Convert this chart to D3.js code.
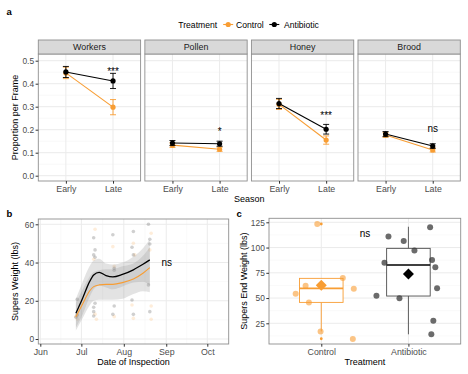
<!DOCTYPE html>
<html><head><meta charset="utf-8">
<script src="https://cdn.jsdelivr.net/npm/d3@7"></script>
<style>body{margin:0;background:#fff}svg{display:block;font-family:"Liberation Sans",Arial,Helvetica,sans-serif}</style>
</head><body><svg id="chart" width="468" height="374"></svg>
<script>
// ---------- Panel a data ----------
const facets = ["Workers", "Pollen", "Honey", "Brood"];
const seasons = ["Early", "Late"];
const treatments = ["Control", "Antibiotic"];
const controlMean = [[0.447, 0.298], [0.133, 0.115], [0.310, 0.155], [0.177, 0.112]];
const controlSE = [[0.025, 0.033], [0.010, 0.009], [0.022, 0.018], [0.010, 0.009]];
const antibioticMean = [[0.451, 0.412], [0.142, 0.139], [0.314, 0.202], [0.181, 0.129]];
const antibioticSE = [[0.024, 0.033], [0.011, 0.011], [0.022, 0.021], [0.011, 0.010]];
const sigLabels = ["***", "*", "***", "ns"];
const sigY = [0.440, 0.177, 0.248, 0.191];
const yTicksA = [0, 0.1, 0.2, 0.3, 0.4, 0.5];

// ---------- Panel b data ----------
const smoothDates = ["2018-06-27","2018-07-02","2018-07-07","2018-07-10","2018-07-14","2018-07-19","2018-07-24","2018-07-31","2018-08-08","2018-08-15","2018-08-20"];
const antibioticFit = [13.5, 21.5, 30.0, 33.5, 34.9, 33.2, 32.5, 33.8, 36.2, 39.1, 41.4];
const antibioticLow = [6.0, 13.0, 22.0, 26.0, 28.0, 27.0, 26.0, 27.5, 29.5, 30.0, 28.0];
const antibioticHigh = [21.0, 30.0, 38.0, 41.0, 42.0, 39.5, 39.0, 40.0, 43.0, 47.5, 52.0];
const controlFit = [11.7, 18.5, 25.1, 27.4, 28.3, 28.6, 28.6, 29.5, 31.4, 34.4, 37.3];
const controlLow = [4.5, 11.0, 17.5, 20.0, 20.5, 20.5, 20.5, 21.0, 23.5, 25.0, 24.5];
const controlHigh = [19.0, 26.0, 32.5, 35.0, 36.0, 36.5, 36.5, 38.0, 39.5, 43.5, 48.0];
const controlPtDates = ["2018-06-27","2018-06-28","2018-06-28","2018-07-11","2018-07-10","2018-07-12","2018-07-11","2018-07-24","2018-07-25","2018-07-25","2018-08-08","2018-08-07","2018-08-08","2018-08-09","2018-08-21","2018-08-20","2018-08-21","2018-08-21"];
const controlPtWeight = [11.8, 12.5, 10.5, 57.4, 41.7, 10.3, 13.0, 48.3, 11.7, 38.0, 50.1, 17.8, 10.8, 44.0, 55.3, 46.6, 17.3, 10.3];
const antibioticPtDates = ["2018-06-27","2018-06-28","2018-06-28","2018-07-10","2018-07-11","2018-07-11","2018-07-10","2018-07-10","2018-07-10","2018-07-11","2018-07-10","2018-07-24","2018-07-25","2018-07-25","2018-07-24","2018-07-25","2018-08-08","2018-08-07","2018-08-08","2018-08-07","2018-08-08","2018-08-19","2018-08-20","2018-08-20","2018-08-19","2018-08-20"];
const antibioticPtWeight = [11.4, 12.6, 20.8, 44.0, 42.8, 46.6, 53.0, 14.3, 16.6, 18.7, 12.0, 54.5, 37.0, 36.0, 12.9, 17.3, 56.2, 48.0, 44.0, 20.4, 12.9, 60.0, 52.2, 49.7, 28.3, 14.3];
const monthTicks = ["2018-06-01","2018-07-01","2018-08-01","2018-09-01","2018-10-01"];
const monthLabels = ["Jun", "Jul", "Aug", "Sep", "Oct"];
const yTicksB = [0, 20, 40, 60];

// ---------- Panel c data ----------
const boxQ1 = [45.7, 52.0];
const boxMedian = [59.6, 82.7];
const boxQ3 = [69.5, 99.2];
const whiskerLow = [17.0, 14.1];
const whiskerHigh = [69.8, 120.6];
const groupMean = [62.6, 73.8];
const outliers = [[123.3, 9.7], []];
const controlEndWeight = [123.3, 62.2, 54.3, 45.7, 69.8, 59.2, 17.0, 9.4];
const controlJitter = [-0.046, -0.18, -0.294, -0.142, 0.247, 0.373, -0.008, 0.362];
const antibioticEndWeight = [120.0, 111.0, 106.4, 97.2, 85.0, 87.6, 80.4, 59.6, 52.3, 49.7, 27.5, 14.1];
const antibioticJitter = [0.249, -0.229, -0.054, 0.069, -0.275, 0.271, 0.309, 0.329, -0.367, -0.103, 0.286, 0.263];
const yTicksC = [25, 50, 75, 100, 125];

// ---------- styles ----------
const ORANGE = "#F89D33", BLACK = "#000000";
const GRID = "#EBEBEB", GRID_MINOR = "#F5F5F5", BORDER = "#8F8F8F", TICKTXT = "#4D4D4D", TICK = "#333333";
const XTICK_FS = 8.8, YTICK_FS = 8.4;
const svg = d3.select("#chart");
const parse = d3.timeParse("%Y-%m-%d");

function tagLabel(t, x, y) {
  svg.append("text").attr("x", x).attr("y", y).attr("font-size", 9.5).attr("font-weight", "bold").text(t);
}
function styleAxis(ax, fs) {
  ax.select(".domain").remove();
  ax.selectAll("line").attr("stroke", TICK);
  ax.selectAll("text").attr("font-size", fs).attr("fill", TICKTXT).attr("font-family", null);
}

// ================= Panel a =================
tagLabel("a", 6.5, 15);
const fx = d3.scaleBand().domain(facets).range([38.3, 460.3]).paddingInner(0.04);
const yA = d3.scaleLinear().domain([0, 0.5]).range([175.7, 60.7]);
const pTop = 54, pBot = 181, sTop = 40;
const bw = fx.bandwidth();
const xs = d3.scalePoint().domain(seasons).range([0, bw]).padding(0.585);

facets.forEach((f, i) => {
  const g = svg.append("g").attr("transform", `translate(${fx(f)},0)`);
  g.append("rect").attr("x", 0).attr("y", pTop).attr("width", bw).attr("height", pBot - pTop).attr("fill", "#fff");
  d3.range(0.05, 0.5, 0.1).forEach(v => g.append("line").attr("x1", 0).attr("x2", bw).attr("y1", yA(v)).attr("y2", yA(v)).attr("stroke", GRID_MINOR).attr("stroke-width", 0.6));
  yTicksA.forEach(v => g.append("line").attr("x1", 0).attr("x2", bw).attr("y1", yA(v)).attr("y2", yA(v)).attr("stroke", GRID).attr("stroke-width", 1));
  seasons.forEach(s => g.append("line").attr("x1", xs(s)).attr("x2", xs(s)).attr("y1", pTop).attr("y2", pBot).attr("stroke", GRID).attr("stroke-width", 1));

  const series = [
    { mean: controlMean[i], se: controlSE[i], col: ORANGE },
    { mean: antibioticMean[i], se: antibioticSE[i], col: BLACK }
  ];
  series.forEach(sr => {
    const pts = seasons.map((s, j) => ({ s, m: sr.mean[j], e: sr.se[j] }));
    g.append("path").datum(pts)
      .attr("d", d3.line().x(d => xs(d.s)).y(d => yA(d.m)))
      .attr("fill", "none").attr("stroke", sr.col).attr("stroke-width", 1.1);
    pts.forEach(d => {
      g.append("line").attr("x1", xs(d.s)).attr("x2", xs(d.s)).attr("y1", yA(d.m - d.e)).attr("y2", yA(d.m + d.e)).attr("stroke", sr.col).attr("stroke-width", 0.9);
      [d.m - d.e, d.m + d.e].forEach(v => g.append("line").attr("x1", xs(d.s) - 3).attr("x2", xs(d.s) + 3).attr("y1", yA(v)).attr("y2", yA(v)).attr("stroke", sr.col).attr("stroke-width", 0.9));
      g.append("circle").attr("cx", xs(d.s)).attr("cy", yA(d.m)).attr("r", 2.6).attr("fill", sr.col);
    });
  });
  g.append("text").attr("x", xs("Late")).attr("y", yA(sigY[i])).attr("text-anchor", "middle")
    .attr("font-size", 10).attr("fill", "#000").text(sigLabels[i]);

  g.append("rect").attr("x", 0).attr("y", pTop).attr("width", bw).attr("height", pBot - pTop).attr("fill", "none").attr("stroke", BORDER).attr("stroke-width", 0.9);
  g.append("rect").attr("x", 0).attr("y", sTop).attr("width", bw).attr("height", pTop - sTop).attr("fill", "#D9D9D9").attr("stroke", BORDER).attr("stroke-width", 0.9);
  g.append("text").attr("x", bw / 2).attr("y", sTop + 10.3).attr("text-anchor", "middle").attr("font-size", 8.9).attr("fill", "#1A1A1A").text(f);

  const xa = g.append("g").attr("transform", `translate(0,${pBot})`).call(d3.axisBottom(xs).tickSize(2.7).tickPadding(1.8));
  styleAxis(xa, XTICK_FS);
  if (i === 0) {
    const ya = g.append("g").call(d3.axisLeft(yA).tickValues(yTicksA).tickFormat(d3.format(".1f")).tickSize(2.7).tickPadding(1.5));
    styleAxis(ya, YTICK_FS);
  }
});
svg.append("text").attr("transform", `translate(18.3,${(pTop + pBot) / 2}) rotate(-90)`).attr("text-anchor", "middle").attr("font-size", 9).text("Proportion per Frame");
svg.append("text").attr("x", 249.3).attr("y", 201.5).attr("text-anchor", "middle").attr("font-size", 9).text("Season");

// legend
svg.append("text").attr("x", 178.3).attr("y", 27.6).attr("font-size", 8.6).text("Treatment");
[{ t: treatments[0], c: ORANGE, kx: 228.2, tx: 236 }, { t: treatments[1], c: BLACK, kx: 274.3, tx: 284 }].forEach(k => {
  svg.append("line").attr("x1", k.kx - 5).attr("x2", k.kx + 5).attr("y1", 24.5).attr("y2", 24.5).attr("stroke", k.c).attr("stroke-width", 1.1);
  svg.append("circle").attr("cx", k.kx).attr("cy", 24.5).attr("r", 2.6).attr("fill", k.c);
  svg.append("text").attr("x", k.tx).attr("y", 27.6).attr("font-size", 8.6).text(k.t);
});

// ================= Panel b =================
tagLabel("b", 6.5, 217.3);
const bL = 38.3, bR = 228.7, bT = 219, bB = 344;
const xB = d3.scaleTime().domain([parse(monthTicks[0]), parse(monthTicks[4])]).range([40.3, 207.3]);
const yB = d3.scaleLinear().domain([0, 60]).range([339, 224.3]);
const gb = svg.append("g");
gb.append("rect").attr("x", bL).attr("y", bT).attr("width", bR - bL).attr("height", bB - bT).attr("fill", "#fff");
[10, 30, 50].forEach(v => gb.append("line").attr("x1", bL).attr("x2", bR).attr("y1", yB(v)).attr("y2", yB(v)).attr("stroke", GRID_MINOR).attr("stroke-width", 0.6));
for (let k = 0; k < monthTicks.length - 1; k++) {
  const mid = new Date((parse(monthTicks[k]).getTime() + parse(monthTicks[k + 1]).getTime()) / 2);
  gb.append("line").attr("x1", xB(mid)).attr("x2", xB(mid)).attr("y1", bT).attr("y2", bB).attr("stroke", GRID_MINOR).attr("stroke-width", 0.6);
}
yTicksB.forEach(v => gb.append("line").attr("x1", bL).attr("x2", bR).attr("y1", yB(v)).attr("y2", yB(v)).attr("stroke", GRID));
monthTicks.forEach(m => gb.append("line").attr("x1", xB(parse(m))).attr("x2", xB(parse(m))).attr("y1", bT).attr("y2", bB).attr("stroke", GRID));

controlPtDates.forEach((d, i) => gb.append("circle").attr("cx", xB(parse(d))).attr("cy", yB(controlPtWeight[i])).attr("r", 1.8).attr("fill", ORANGE).attr("opacity", 0.18));
antibioticPtDates.forEach((d, i) => gb.append("circle").attr("cx", xB(parse(d))).attr("cy", yB(antibioticPtWeight[i])).attr("r", 1.8).attr("fill", "#555").attr("opacity", 0.28));

const sd = smoothDates.map(parse);
const area = (lo, hi) => d3.area().x((d, i) => xB(sd[i])).y0((d, i) => yB(lo[i])).y1((d, i) => yB(hi[i])).curve(d3.curveMonotoneX);
gb.append("path").datum(sd).attr("d", area(controlLow, controlHigh)).attr("fill", "#999").attr("opacity", 0.28);
gb.append("path").datum(sd).attr("d", area(antibioticLow, antibioticHigh)).attr("fill", "#999").attr("opacity", 0.28);
const fitLine = arr => d3.line().x((d, i) => xB(sd[i])).y((d, i) => yB(arr[i])).curve(d3.curveMonotoneX);
gb.append("path").datum(sd).attr("d", fitLine(controlFit)).attr("fill", "none").attr("stroke", ORANGE).attr("stroke-width", 1.1);
gb.append("path").datum(sd).attr("d", fitLine(antibioticFit)).attr("fill", "none").attr("stroke", BLACK).attr("stroke-width", 1.3);
gb.append("text").attr("x", 166.7).attr("y", 266).attr("text-anchor", "middle").attr("font-size", 10).text("ns");
gb.append("rect").attr("x", bL).attr("y", bT).attr("width", bR - bL).attr("height", bB - bT).attr("fill", "none").attr("stroke", BORDER).attr("stroke-width", 0.9);

const xbA = gb.append("g").attr("transform", `translate(0,${bB})`).call(d3.axisBottom(xB).tickValues(monthTicks.map(parse)).tickFormat((d, i) => monthLabels[i]).tickSize(2.7).tickPadding(1.8));
styleAxis(xbA, XTICK_FS);
const ybA = gb.append("g").attr("transform", `translate(${bL},0)`).call(d3.axisLeft(yB).tickValues(yTicksB).tickSize(2.7).tickPadding(1.5));
styleAxis(ybA, YTICK_FS);
svg.append("text").attr("transform", `translate(18.3,${(bT + bB) / 2}) rotate(-90)`).attr("text-anchor", "middle").attr("font-size", 9).text("Supers Weight (lbs)");
svg.append("text").attr("x", (bL + bR) / 2).attr("y", 365).attr("text-anchor", "middle").attr("font-size", 9).text("Date of Inspection");

// ================= Panel c =================
tagLabel("c", 236.5, 216.7);
const cL = 269, cR = 460.7, cT = 218.3, cB = 344;
const xC = d3.scalePoint().domain(treatments).range([cL, cR]).padding(0.6);
const stepC = xC.step();
const yC = d3.scaleLinear().domain([25, 125]).range([323.3, 222.3]);
const gc = svg.append("g");
gc.append("rect").attr("x", cL).attr("y", cT).attr("width", cR - cL).attr("height", cB - cT).attr("fill", "#fff");
[12.5, 37.5, 62.5, 87.5, 112.5].forEach(v => gc.append("line").attr("x1", cL).attr("x2", cR).attr("y1", yC(v)).attr("y2", yC(v)).attr("stroke", GRID_MINOR).attr("stroke-width", 0.6));
yTicksC.forEach(v => gc.append("line").attr("x1", cL).attr("x2", cR).attr("y1", yC(v)).attr("y2", yC(v)).attr("stroke", GRID));
treatments.forEach(t => gc.append("line").attr("x1", xC(t)).attr("x2", xC(t)).attr("y1", cT).attr("y2", cB).attr("stroke", GRID));

const boxCols = [ORANGE, "#4D4D4D"];
const medCols = [ORANGE, "#000"];
const ptCols = [ORANGE, "#3A3A3A"];
const ptOp = [0.6, 0.75];
const meanCols = [ORANGE, "#000"];
const allPts = [controlEndWeight, antibioticEndWeight];
const allJit = [controlJitter, antibioticJitter];
treatments.forEach((t, i) => {
  const cx = xC(t), hw = stepC * 0.25;
  gc.append("line").attr("x1", cx).attr("x2", cx).attr("y1", yC(boxQ3[i])).attr("y2", yC(whiskerHigh[i])).attr("stroke", boxCols[i]).attr("stroke-width", 0.9);
  gc.append("line").attr("x1", cx).attr("x2", cx).attr("y1", yC(boxQ1[i])).attr("y2", yC(whiskerLow[i])).attr("stroke", boxCols[i]).attr("stroke-width", 0.9);
  gc.append("rect").attr("x", cx - hw).attr("y", yC(boxQ3[i])).attr("width", 2 * hw).attr("height", yC(boxQ1[i]) - yC(boxQ3[i]))
    .attr("fill", "#fff").attr("stroke", boxCols[i]).attr("stroke-width", 0.9);
  gc.append("line").attr("x1", cx - hw).attr("x2", cx + hw).attr("y1", yC(boxMedian[i])).attr("y2", yC(boxMedian[i])).attr("stroke", medCols[i]).attr("stroke-width", 1.6);
  outliers[i].forEach(v => gc.append("circle").attr("cx", cx).attr("cy", yC(v)).attr("r", 1.4).attr("fill", ORANGE));
  allPts[i].forEach((v, j) => gc.append("circle").attr("cx", cx + allJit[i][j] * stepC).attr("cy", yC(v)).attr("r", 3).attr("fill", ptCols[i]).attr("opacity", ptOp[i]));
  const my = yC(groupMean[i]), s = 5.5;
  gc.append("path").attr("d", `M${cx},${my - s}L${cx + s},${my}L${cx},${my + s}L${cx - s},${my}Z`).attr("fill", meanCols[i]);
});
gc.append("text").attr("x", 365).attr("y", 236.5).attr("text-anchor", "middle").attr("font-size", 10).text("ns");
gc.append("rect").attr("x", cL).attr("y", cT).attr("width", cR - cL).attr("height", cB - cT).attr("fill", "none").attr("stroke", BORDER).attr("stroke-width", 0.9);

const xcA = gc.append("g").attr("transform", `translate(0,${cB})`).call(d3.axisBottom(xC).tickSize(2.7).tickPadding(1.8));
styleAxis(xcA, XTICK_FS);
const ycA = gc.append("g").attr("transform", `translate(${cL},0)`).call(d3.axisLeft(yC).tickValues(yTicksC).tickSize(2.7).tickPadding(1.5));
styleAxis(ycA, YTICK_FS);
svg.append("text").attr("transform", `translate(246.5,${(cT + cB) / 2}) rotate(-90)`).attr("text-anchor", "middle").attr("font-size", 9).text("Supers End Weight (lbs)");
svg.append("text").attr("x", (cL + cR) / 2).attr("y", 365).attr("text-anchor", "middle").attr("font-size", 9).text("Treatment");
</script></body></html>
